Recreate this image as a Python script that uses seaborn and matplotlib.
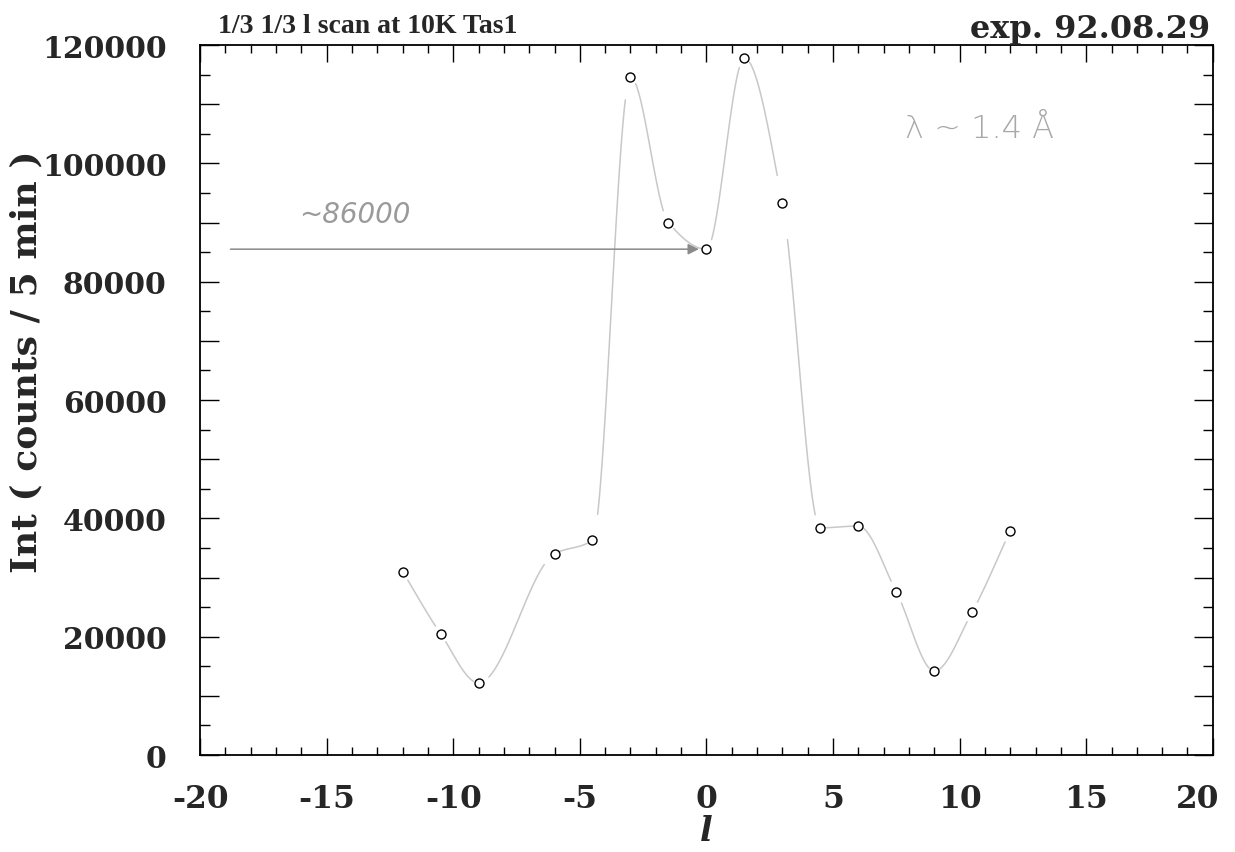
import numpy as np
import pandas as pd
import matplotlib
matplotlib.use("Agg")
import matplotlib.pyplot as plt
from matplotlib.ticker import MultipleLocator, FuncFormatter
from matplotlib.transforms import ScaledTranslation
import seaborn as sns

# Measured scan along (1/3 1/3 l) at 10 K
l_values = [-12.0, -10.5, -9.0, -6.0, -4.5, -3.0, -1.5, 0.0,
            1.5, 3.0, 4.5, 6.0, 7.5, 9.0, 10.5, 12.0]
intensity = [31000, 20500, 12200, 34000, 36300, 114600, 90000, 85500,
             117800, 93300, 38400, 38700, 27600, 14200, 24200, 37900]

x_ticks = [-20, -15, -10, -5, 0, 5, 10, 15, 20]
y_ticks = [0, 20000, 40000, 60000, 80000, 100000, 120000]

title_left = "1/3 1/3 l scan at 10K Tas1"
title_right = "exp. 92.08.29"
y_label = "Int ( counts / 5 min )"
x_label = "l"
note_value = "~86000"
note_wavelength = "λ ~ 1.4 Å"
arrow_start_l = -18.8

df = pd.DataFrame({"l": l_values, "I": intensity})

sns.set_theme(style="ticks")
plt.rcParams["font.family"] = ["DejaVu Serif"]
plt.rcParams["font.weight"] = "bold"

fig = plt.figure(figsize=(12.35, 8.53), dpi=100)
ax = fig.add_axes([0.162, 0.1137, 0.820, 0.8323])


def monotone_pieces(xs, ys, n=60):
    """Shape-preserving cubic (Fritsch-Carlson) guide through the points, per interval."""
    xs = np.asarray(xs, float)
    ys = np.asarray(ys, float)
    h = np.diff(xs)
    d = np.diff(ys) / h
    m = np.zeros_like(ys)
    m[0], m[-1] = d[0], d[-1]
    for k in range(1, len(xs) - 1):
        if d[k - 1] * d[k] > 0:
            w1 = 2 * h[k] + h[k - 1]
            w2 = h[k] + 2 * h[k - 1]
            m[k] = (w1 + w2) / (w1 / d[k - 1] + w2 / d[k])
    pieces = []
    for k in range(len(xs) - 1):
        t = np.linspace(0, 1, n)
        h00 = 2 * t ** 3 - 3 * t ** 2 + 1
        h10 = t ** 3 - 2 * t ** 2 + t
        h01 = -2 * t ** 3 + 3 * t ** 2
        h11 = t ** 3 - t ** 2
        cy = h00 * ys[k] + h10 * h[k] * m[k] + h01 * ys[k + 1] + h11 * h[k] * m[k + 1]
        cx = xs[k] + t * h[k]
        pieces.append((t, cx, cy))
    return pieces


# pale hand-sketched guide curve, leaving small gaps around each point
for t, cx, cy in monotone_pieces(l_values, intensity):
    keep = (t > 0.13) & (t < 0.87)
    ax.plot(cx[keep], cy[keep], color="#c8c8c8", lw=1.1, solid_capstyle="round", zorder=1)

sns.scatterplot(data=df, x="l", y="I", ax=ax, marker="o", s=42,
                facecolor="white", edgecolor="black", linewidth=1.0, zorder=3)

# pencil notes
ax.annotate("", xy=(l_values[7] - 0.3, intensity[7]), xytext=(arrow_start_l, intensity[7]),
            arrowprops=dict(arrowstyle="-|>", color="#8a8a8a", lw=1.1,
                            mutation_scale=16, shrinkA=0, shrinkB=0), zorder=2)
ax.text(-13.9, 91500, note_value, color="#9a9a9a", fontsize=20, ha="center", va="center",
        family=["DejaVu Sans"], fontweight="light", style="italic")
ax.text(10.8, 106000, note_wavelength, color="#a8a8a8", fontsize=23, ha="center", va="center",
        family=["DejaVu Sans"], fontweight="light")

ax.set_xlim(x_ticks[0], x_ticks[-1])
ax.set_ylim(y_ticks[0], y_ticks[-1])
ax.set_xticks(x_ticks)
ax.xaxis.set_minor_locator(MultipleLocator(1))
ax.yaxis.set_major_locator(MultipleLocator(10000))
ax.yaxis.set_minor_locator(MultipleLocator(5000))
ax.yaxis.set_major_formatter(FuncFormatter(lambda v, p: f"{int(round(v))}" if int(round(v)) in y_ticks else ""))
ax.xaxis.set_major_formatter(FuncFormatter(lambda v, p: f"{int(round(v))}"))

ax.tick_params(axis="both", which="both", direction="in", top=True, right=True,
               color="black", width=1.0)
ax.tick_params(axis="x", which="major", length=12, pad=20, labelsize=22.5)
ax.tick_params(axis="x", which="minor", length=6)
ax.tick_params(axis="y", which="major", length=14, pad=24, labelsize=21.5)
ax.tick_params(axis="y", which="minor", length=7)
for lab in ax.get_xticklabels() + ax.get_yticklabels():
    lab.set_fontweight("bold")

# the last x label sits a little inside the frame
last = ax.xaxis.get_major_ticks()[-1].label1
last.set_transform(last.get_transform() + ScaledTranslation(-0.15, 0, fig.dpi_scale_trans))

for s in ax.spines.values():
    s.set_color("black")
    s.set_linewidth(1.3)

ax.set_xlabel(x_label, fontsize=24, fontweight="bold", style="italic")
ax.set_ylabel(y_label, fontsize=26, fontweight="bold")
ax.xaxis.set_label_coords(0.5, -0.107)
ax.xaxis.label.set_va("center")
ax.yaxis.set_label_coords(-0.171, 0.555)
ax.yaxis.label.set_va("center")

fig.text(218 / 1235, 1 - 33 / 853, title_left, fontsize=20, fontweight="bold",
         family=["Liberation Serif"], ha="left", va="baseline")
fig.text(1210 / 1235, 1 - 38 / 853, title_right, fontsize=23, fontweight="bold",
         ha="right", va="baseline")

fig.savefig("out.png", dpi=100, facecolor="white")
